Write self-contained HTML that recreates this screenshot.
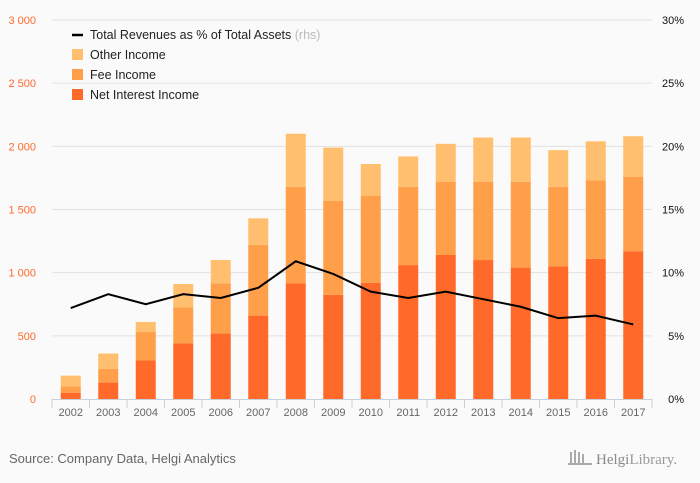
<!DOCTYPE html>
<html><head><meta charset="utf-8"><style>
html,body{margin:0;padding:0;background:#fafafa;}
svg{display:block;font-family:"Liberation Sans",sans-serif;}
</style></head><body>
<svg id="chart" width="700" height="483">
<rect x="0" y="0" width="700" height="483" fill="#fafafa"/>
<g id="grid"></g><g id="bars"></g><g id="line"></g><g id="axes"></g>
<g font-size="12.5" fill="#222">
<line x1="72" y1="35" x2="83" y2="35" stroke="#000" stroke-width="2.5"/>
<text x="90" y="39">Total Revenues as % of Total Assets <tspan fill="#bbb">(rhs)</tspan></text>
<rect x="72" y="49" width="11" height="11" fill="#ffbf6e"/>
<text x="90" y="59">Other Income</text>
<rect x="72" y="69" width="11" height="11" fill="#ff9f4a"/>
<text x="90" y="79">Fee Income</text>
<rect x="72" y="89" width="11" height="11" fill="#ff6a2b"/>
<text x="90" y="99">Net Interest Income</text>
</g>
<text x="9" y="463" font-size="13" fill="#666">Source: Company Data, Helgi Analytics</text>
<text x="596" y="464" font-size="15" fill="#999" font-family="Liberation Serif,serif"><tspan fill="#888">Helgi</tspan>Library.</text>
<g fill="#aaa"><rect x="570" y="452" width="2" height="12"/><rect x="574" y="450" width="2" height="14"/><rect x="578" y="452" width="2" height="12"/><rect x="582" y="454" width="2" height="10"/><rect x="568" y="463" width="24" height="2"/></g>
</svg>
<script>
const years=["2002","2003","2004","2005","2006","2007","2008","2009","2010","2011","2012","2013","2014","2015","2016","2017"];
const netInterest=[50,130,305,440,520,660,915,825,920,1060,1140,1100,1040,1050,1110,1170];
const feeIncome=[50,110,225,285,395,560,765,745,690,620,580,620,680,630,620,590];
const otherIncome=[85,120,80,185,185,210,420,420,250,240,300,350,350,290,310,320];
const ratioPct=[7.2,8.3,7.5,8.3,8.0,8.8,10.9,9.9,8.5,8.0,8.5,7.9,7.3,6.4,6.6,5.9];
const leftTicks=[0,500,1000,1500,2000,2500,3000];
const rightTicks=[0,5,10,15,20,25,30];

const NS="http://www.w3.org/2000/svg";
const X0=52,X1=652,Y0=399,Y1=20;
const band=(X1-X0)/years.length;
const xC=i=>X0+band*(i+0.5);
const yL=v=>Y0-(v/3000)*(Y0-Y1);
const yR=v=>Y0-(v/30)*(Y0-Y1);
function mk(tag,attrs,parent,txt){const e=document.createElementNS(NS,tag);for(const k in attrs)e.setAttribute(k,attrs[k]);if(txt!==undefined)e.textContent=txt;document.getElementById(parent).appendChild(e);return e;}

leftTicks.forEach((t,i)=>{
  if(t>0){const g=mk('line',{x1:52,x2:652,y1:yL(t),y2:yL(t),stroke:'#e2e2e2','stroke-width':1},'grid');
  
  }
  const l=mk('text',{x:36,y:yL(t)+4,'font-size':11,fill:'#ff6a2b','text-anchor':'end'},'axes',t===0?'0':t.toLocaleString('en').replace(',',' '));
  
  
});
rightTicks.forEach(t=>{
  const l=mk('text',{x:684,y:yR(t)+4,'font-size':11,fill:'#111','text-anchor':'end'},'axes',t+'%');
  
  
});
const ax=mk('line',{x1:X0,x2:X1,y1:Y0+0.5,y2:Y0+0.5,stroke:'#c8d0dc'},'axes');


for(let i=0;i<=years.length;i++){
  const t=mk('line',{x1:X0+band*i,x2:X0+band*i,y1:Y0,y2:Y0+9,stroke:'#c8d0dc'},'axes');
  
  
}
const bw=20;
years.forEach((y,i)=>{
  const lab=mk('text',{x:xC(i),y:416,'font-size':11,fill:'#666','text-anchor':'middle'},'axes',y);
  
  
  const a=netInterest[i],b=a+feeIncome[i],c=b+otherIncome[i];
  const r1=mk('rect',{x:xC(i)-bw/2,y:yL(a),width:bw,height:yL(0)-yL(a),fill:'#ff6a2b'},'bars');
  
  
  const r2=mk('rect',{x:xC(i)-bw/2,y:yL(b),width:bw,height:yL(a)-yL(b),fill:'#ff9f4a'},'bars');
  
  
  const r3=mk('rect',{x:xC(i)-bw/2,y:yL(c),width:bw,height:yL(b)-yL(c),fill:'#ffbf6e'},'bars');
  
  
});
const pts=ratioPct.map((v,i)=>xC(i)+','+yR(v)).join(' ');
const pl=mk('polyline',{points:pts,fill:'none',stroke:'#000','stroke-width':2},'line');


</script>
</body></html>
